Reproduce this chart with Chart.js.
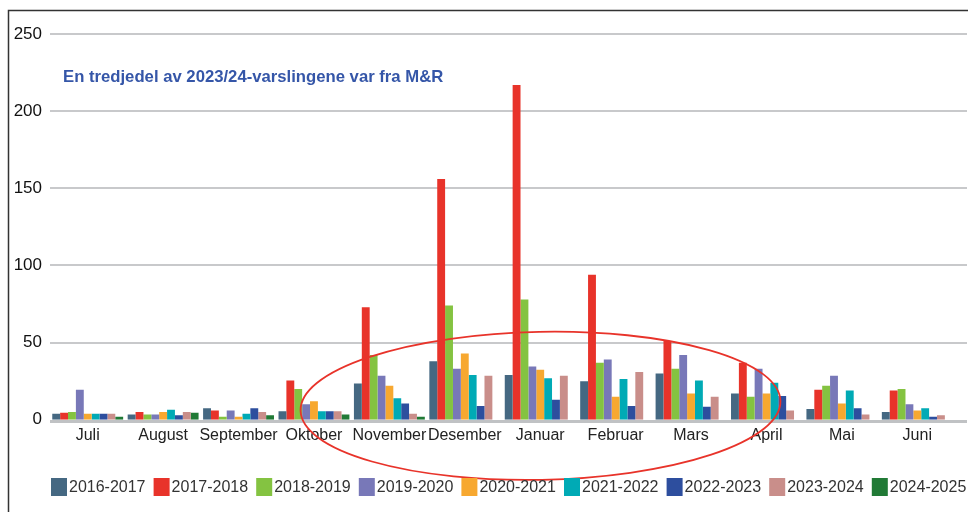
<!DOCTYPE html>
<html lang="no">
<head>
<meta charset="utf-8">
<title>Varslinger per måned</title>
<script src="https://cdn.jsdelivr.net/npm/chart.js@4/dist/chart.umd.min.js"></script>
<style>
  html, body { margin: 0; padding: 0; background: #fff; }
  #boks { position: relative; width: 968px; height: 512px; }
</style>
</head>
<body>
<div id="boks"><canvas id="grafikk" width="968" height="512"></canvas></div>
<script>
const maaneder = ['Juli', 'August', 'September', 'Oktober', 'November', 'Desember',
  'Januar', 'Februar', 'Mars', 'April', 'Mai', 'Juni'];

const s2016 = [4, 3.5, 7.5, 5.5, 23.5, 38, 29, 25, 30, 17, 7, 5];
const s2017 = [4.5, 5, 6, 25.5, 73, 156, 217, 94, 51, 37, 19.5, 19];
const s2018 = [5, 3.5, 2, 20, 42, 74, 78, 37, 33, 15, 22, 20];
const s2019 = [19.5, 3.5, 6, 10, 28.5, 33, 34.5, 39, 42, 33, 28.5, 10];
const s2020 = [4, 5, 2, 12, 22, 43, 32.5, 15, 17, 17, 10.5, 6];
const s2021 = [4, 6.5, 4, 5.5, 14, 29, 27, 26.5, 25.5, 24, 19, 7.5];
const s2022 = [4, 3, 7.5, 5.5, 10.5, 9, 13, 9, 8.5, 15.5, 7.5, 2];
const s2023 = [4, 5, 5, 5.5, 4, 28.5, 28.5, 31, 15, 6, 3.5, 3];
const s2024 = [2, 4.5, 3, 3.5, 2, null, null, null, null, null, null, null];

const sesonger = ['2016-2017', '2017-2018', '2018-2019', '2019-2020', '2020-2021',
  '2021-2022', '2022-2023', '2023-2024', '2024-2025'];
const farger = ['#456882', '#e8332a', '#84c341', '#7878b8', '#f7a830',
  '#00aab5', '#2d4e9e', '#c98e8a', '#217a36'];
const yTicks = [0, 50, 100, 150, 200, 250];

const serier = [s2016, s2017, s2018, s2019, s2020, s2021, s2022, s2023, s2024];

const skrift = '"Liberation Sans", Arial, sans-serif';

// rutenett, ramme, overskrift, ellipse og forklaring
const tegnEkstra = {
  id: 'tegnEkstra',
  beforeDatasetsDraw(chart) {
    const ctx = chart.ctx;
    const y = chart.scales.y;
    const area = chart.chartArea;
    ctx.save();
    yTicks.forEach(v => {
      const py = Math.round(y.getPixelForValue(v));
      const nullLinje = v === 0;
      ctx.beginPath();
      ctx.lineWidth = nullLinje ? 3 : 2;
      ctx.strokeStyle = nullLinje ? '#c0c2c4' : '#c8c9cb';
      ctx.moveTo(area.left, py + (nullLinje ? 1.5 : 0));
      ctx.lineTo(chart.width - 1, py + (nullLinje ? 1.5 : 0));
      ctx.stroke();
    });
    ctx.restore();
  },
  afterDraw(chart) {
    const ctx = chart.ctx;
    const x = chart.scales.x;
    const y = chart.scales.y;
    ctx.save();
    // ramme
    ctx.strokeStyle = '#333';
    ctx.lineWidth = 1.5;
    ctx.beginPath();
    ctx.moveTo(8.5, chart.height);
    ctx.lineTo(8.5, 10.5);
    ctx.lineTo(chart.width, 10.5);
    ctx.stroke();

    // overskrift
    ctx.fillStyle = '#3556a8';
    ctx.font = 'bold 16.7px ' + skrift;
    ctx.textBaseline = 'middle';
    ctx.fillText('En tredjedel av 2023/24-varslingene var fra M&R', 63, 77);

    // ellipse rundt vintermånedene
    const cx = (x.getPixelForValue(5) + x.getPixelForValue(6)) / 2 + 38;
    const cy = y.getPixelForValue(0) - 14;
    ctx.strokeStyle = '#e8332a';
    ctx.lineWidth = 1.8;
    ctx.beginPath();
    ctx.ellipse(cx, cy, 240, 74, -0.02, 0, Math.PI * 2);
    ctx.stroke();

    // forklaring på én linje
    ctx.font = '16px ' + skrift;
    ctx.textBaseline = 'middle';
    chart.data.datasets.forEach((ds, i) => {
      const bx = 51 + i * 102.6;
      ctx.fillStyle = ds.backgroundColor;
      ctx.fillRect(bx, 478, 16, 18);
      ctx.fillStyle = '#333';
      ctx.fillText(ds.label, bx + 18, 488);
    });
    ctx.restore();
  }
};

new Chart(document.getElementById('grafikk'), {
  type: 'bar',
  data: {
    labels: maaneder,
    datasets: serier.map((data, i) => ({
      label: sesonger[i],
      data: data,
      backgroundColor: farger[i],
      borderWidth: 0,
      barPercentage: 1,
      categoryPercentage: 0.94
    }))
  },
  options: {
    responsive: false,
    animation: false,
    layout: { padding: { left: 0, right: 13, top: 34, bottom: 61 } },
    plugins: {
      tooltip: { enabled: false },
      legend: { display: false }
    },
    scales: {
      x: {
        grid: { display: false, drawTicks: false },
        border: { display: false },
        ticks: {
          color: '#222',
          padding: 6,
          maxRotation: 0,
          autoSkip: false,
          font: { family: skrift, size: 16 }
        }
      },
      y: {
        min: 0,
        max: 250,
        afterFit(scale) { scale.width = 50; },
        afterBuildTicks(scale) { scale.ticks = yTicks.map(v => ({ value: v })); },
        grid: { display: false, drawTicks: false },
        border: { display: false },
        ticks: {
          color: '#111',
          padding: 8,
          font: { family: skrift, size: 17 }
        }
      }
    }
  },
  plugins: [tegnEkstra]
});
</script>
</body>
</html>
